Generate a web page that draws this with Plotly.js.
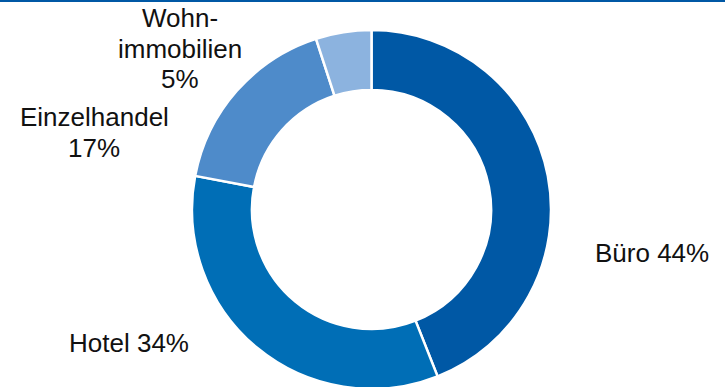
<!DOCTYPE html>
<html>
<head>
<meta charset="utf-8">
<script src="https://cdn.plot.ly/plotly-3.0.1.min.js"></script>
<style>
html,body{margin:0;padding:0;overflow:hidden;background:#fff;}
#chart{width:725px;height:389px;}
</style>
</head>
<body>
<div id="chart"></div>
<script>
// Data
const categories = ["Büro", "Hotel", "Einzelhandel", "Wohnimmobilien"];
const values = [44, 34, 17, 5];
const labelTexts = ["Büro 44%", "Hotel 34%", "Einzelhandel<br>17%", "Wohn-<br>immobilien<br>5%"];

const colors = ["#0058A5", "#006EB6", "#4E8BCA", "#8CB3DF"];
const W = 725, H = 389;
// label first-line center (px) and line spacing
const labelPos = [[651.5, 253], [128.5, 343], [94, 117.5], [180, 18.5]];
const lineGap = 30.5;

const trace = {
  type: "pie",
  labels: categories,
  values: values,
  sort: false,
  direction: "clockwise",
  rotation: 0,
  hole: 0.666,
  textinfo: "none",
  hoverinfo: "label+percent",
  marker: {colors: colors, line: {color: "#ffffff", width: 2.5}},
  domain: {x: [192 / W, 551 / W], y: [0, 1 - 30 / H]},
  showlegend: false
};

const annotations = [];
labelTexts.forEach((t, i) => {
  t.split("<br>").forEach((line, j) => {
    annotations.push({
      text: line,
      xref: "paper", yref: "paper",
      x: labelPos[i][0] / W, y: 1 - (labelPos[i][1] + j * lineGap) / H,
      xanchor: "center", yanchor: "middle",
      showarrow: false,
      align: "center",
      font: {family: "Liberation Sans, Arial, sans-serif", size: 26, color: "#111111"}
    });
  });
});

const layout = {
  width: W, height: H,
  margin: {l: 0, r: 0, t: 0, b: 0},
  paper_bgcolor: "#ffffff",
  plot_bgcolor: "#ffffff",
  annotations: annotations,
  shapes: [{
    type: "line", xref: "paper", yref: "paper",
    x0: 0, x1: 1, y0: 1 - 1 / H, y1: 1 - 1 / H,
    line: {color: "#0058A5", width: 2}
  }]
};

Plotly.newPlot("chart", [trace], layout, {displayModeBar: false, staticPlot: true});
</script>
</body>
</html>
